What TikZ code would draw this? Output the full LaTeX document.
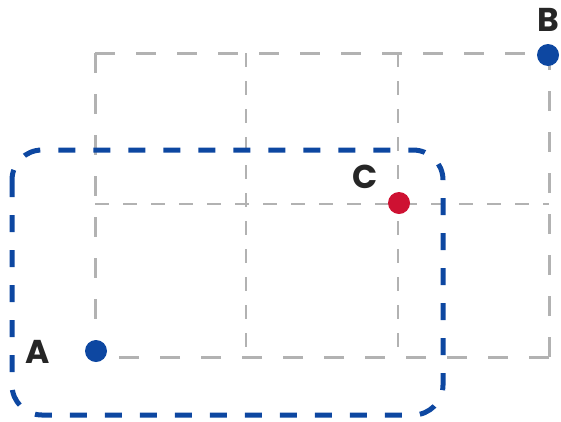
\documentclass[tikz,border=0pt]{standalone}
\usepackage{fontspec}
\setmainfont{Poppins}
\begin{document}
\begin{tikzpicture}[x=1pt,y=-1pt,
  outer/.style={draw=grayline,line width=3pt,dash pattern=on 20pt off 21pt},
  inner/.style={draw=grayline,line width=1.7pt,dash pattern=on 14pt off 14pt},
  region/.style={draw=blueA,line width=5pt,dash pattern=on 17pt off 18pt,rounded corners=30pt},
  dot/.style={circle,inner sep=0pt,minimum size=22pt},
  lbl/.style={font=\fontsize{33}{36}\selectfont\bfseries,text=labelc,inner sep=0pt}]
\definecolor{grayline}{RGB}{178,178,178}
\definecolor{blueA}{RGB}{13,71,161}
\definecolor{redC}{RGB}{206,17,50}
\definecolor{labelc}{RGB}{38,38,38}
\useasboundingbox (0,0) rectangle (561,421);
% grid corner coordinates
\coordinate (tl) at (95,53);
\coordinate (tr) at (549,53);
\coordinate (bl) at (95,357);
\coordinate (br) at (549,357);
\coordinate (v1t) at (246,53);
\coordinate (v1b) at (246,357);
\coordinate (v2t) at (398,53);
\coordinate (v2b) at (398,357);
\coordinate (hl) at (95,204);
\coordinate (hr) at (549,204);
% inner grid
\draw[inner] (v1t) -- (v1b);
\draw[inner] (v2t) -- (v2b);
\draw[inner] (hl) -- (hr);
% outer frame
\draw[outer] (tl) -- (tr);
\draw[outer] (tl) -- (bl);
\draw[outer] (br) -- (bl);
\draw[outer] (br) -- (tr);
% blue region
\draw[region] (12,150) rectangle (443,415);
% points
\node[dot,fill=blueA] (A) at (96,351) {};
\node[dot,fill=blueA] (B) at (548,55) {};
\node[dot,fill=redC] (C) at (399,203) {};
\node[lbl] (Al) at (38,352) {A};
\node[lbl] (Bl) at (548,20) {B};
\node[lbl] (Cl) at (365,177) {C};
\end{tikzpicture}
\end{document}
